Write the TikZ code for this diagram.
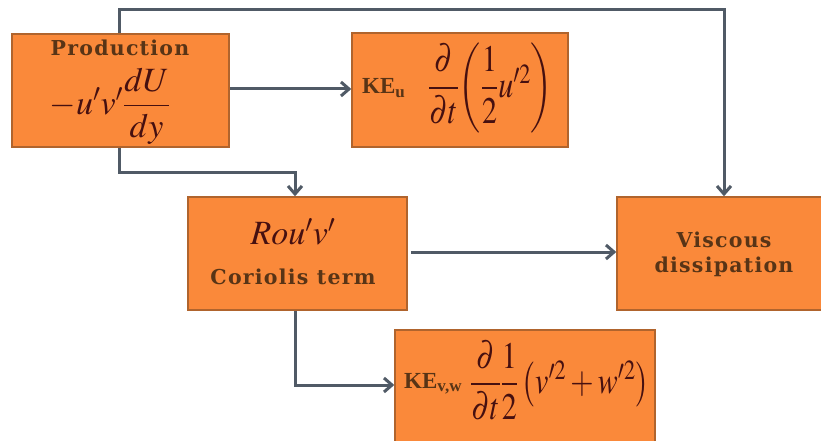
\documentclass[tikz,border=0pt]{standalone}
\usepackage{amsmath}
\usepackage{mathptmx}
\usepackage{graphicx}
\usepackage[no-math]{fontspec}
\setmainfont{Liberation Serif}
\newfontfamily\labfont[LetterSpace=6]{DejaVu Serif}
\usetikzlibrary{arrows.meta}
\definecolor{boxfill}{RGB}{250,137,58}
\definecolor{boxline}{RGB}{176,100,45}
\definecolor{labcol}{RGB}{88,52,22}
\definecolor{mathcol}{RGB}{70,16,16}
\definecolor{arrcol}{RGB}{80,90,102}
\tikzset{
  box/.style={draw=boxline, line width=1.5pt, fill=boxfill, inner sep=0pt},
  lab/.style={font=\labfont\bfseries\fontsize{20.5}{25}\selectfont, text=labcol, inner sep=0pt, align=center},
  kelab/.style={font=\bfseries\fontsize{23}{26}\selectfont, text=labcol, inner sep=0pt},
  mth/.style={text=mathcol, inner sep=0pt}
}
\tikzset{
  conn/.style={draw=arrcol, line width=3pt, -{Straight Barb[length=8pt,width=14pt,line width=3pt]}}
}
\begin{document}
\begin{tikzpicture}[x=1pt,y=-1pt]
\useasboundingbox (0,0) rectangle (821,441);
\clip (0,0) rectangle (821,441);
\fill[white] (0,0) rectangle (821,441);
% boxes
\node[box, minimum width=217pt, minimum height=113pt] (prod) at (120.5,90.5) {};
\node[box, minimum width=216pt, minimum height=114pt] (keu) at (460,90) {};
\node[box, minimum width=219pt, minimum height=113pt] (rou) at (297.5,253.5) {};
\node[box, minimum width=213pt, minimum height=113pt] (visc) at (723.5,253.5) {};
\node[box, minimum width=260pt, minimum height=125pt] (kevw) at (525,392.5) {};
% texts
\node[lab] (prodlab) at (120,48) {Production};
\node[mth, font=\fontsize{34}{38}\selectfont] (prodm) at (110,106) {$-u'v'\dfrac{dU}{dy}$};
\node[kelab, anchor=west] (keulab) at (362,88) {KE\textsubscript{u}};
\node[mth, anchor=west, font=\fontsize{30}{34}\selectfont] (keum) at (428,88) {\scalebox{1}[1.25]{$\dfrac{\partial}{\partial t}\!\left(\dfrac{1}{2}u'^{2}\right)$}};
\node[mth, font=\fontsize{34}{38}\selectfont] (roum) at (293,232) {$Rou'v'$};
\node[lab] (roulab) at (293,277) {Coriolis term};
\node[lab] (visclab) at (724,254) {Viscous\\dissipation};
\node[kelab, anchor=west] (kevwlab) at (404,384) {KE\textsubscript{v,w}};
\node[mth, anchor=west, font=\fontsize{30}{34}\selectfont] (kevwm) at (470,380) {\scalebox{1}[1.25]{$\dfrac{\partial}{\partial t}\dfrac{1}{2}\left(v'^{2}+w'^{2}\right)$}};
% connectors
\draw[conn] (prod.north -| 119,0) -- (119,10) -- (724,10) -- (visc.north -| 724,0);
\draw[conn] (prod.east |- 0,89) -- (keu.west |- 0,89);
\draw[conn] (prod.south -| 119,0) -- (119,172) -- (295,172) -- (rou.north -| 295,0);
\draw[conn, shorten <=3pt] (rou.east |- 0,252) -- (visc.west |- 0,252);
\draw[conn] (rou.south -| 295,0) -- (295,385) -- (kevw.west |- 0,385);
\end{tikzpicture}
\end{document}
